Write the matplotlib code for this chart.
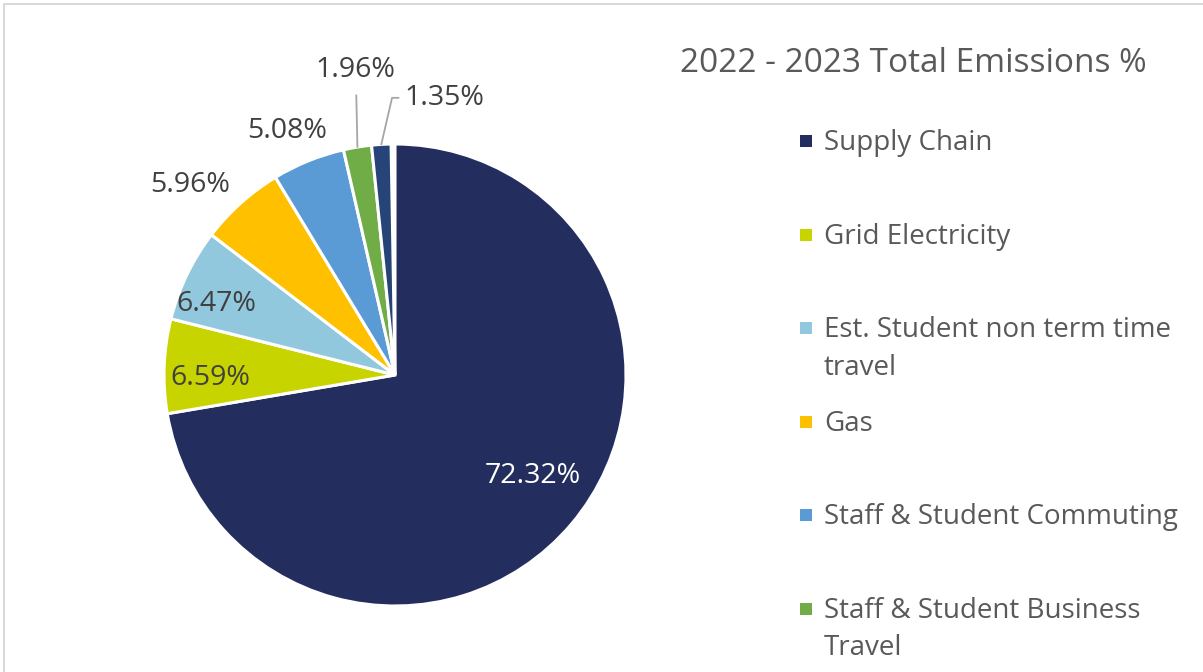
import matplotlib.pyplot as plt
from matplotlib.patches import Rectangle
import numpy as np

labels = ['Supply Chain', 'Grid Electricity', 'Est. Student non term time\ntravel', 'Gas',
          'Staff & Student Commuting', 'Staff & Student Business\nTravel', 'Other']
values = [72.32, 6.59, 6.47, 5.96, 5.08, 1.96, 1.35]
colors = ['#232D5E', '#C8D400', '#92C8DE', '#FFC000', '#5B9BD5', '#70AD47', '#264478']

plt.rcParams['font.family'] = ['Open Sans', 'DejaVu Sans']
textColor = '#404040'

fig = plt.figure(figsize=(12.03, 6.72), dpi=100)

# chart border (only top and left visible in the crop)
fig.patches.append(Rectangle((4 / 1203, -0.2), 1.2, 1.2 - 4 / 672, transform=fig.transFigure,
                             fill=False, edgecolor='#D9D9D9', linewidth=1.5))

# pie axes: centre (395, 375), radius ~231 px
r = 231
cx, cy = 395, 375
ax = fig.add_axes([(cx - r) / 1203, (672 - cy - r) / 672, 2 * r / 1203, 2 * r / 672])
fracs = np.array(values) / 100
wedges, _ = ax.pie(fracs, colors=colors, startangle=90, counterclock=False, normalize=False,
                   wedgeprops=dict(edgecolor='white', linewidth=2.2))
ax.set_xlim(-1, 1)
ax.set_ylim(-1, 1)
ax.set_aspect('auto')
ax.axis('off')

# label radius / angle nudge per slice
dists = [0.73, 0.80, 0.84, 1.22, 1.17]
nudge = [4.8, 2.2, 3.1, 4.7, 1.5]
for i, w in enumerate(wedges[:5]):
    th = np.deg2rad((w.theta1 + w.theta2) / 2 + nudge[i])
    col = 'white' if i == 0 else textColor
    ax.text(dists[i] * np.cos(th), dists[i] * np.sin(th), f'{values[i]:.2f}%',
            ha='center', va='center_baseline', fontsize=20.5, color=col, clip_on=False)

# small slices with leader lines
w = wedges[5]
th = np.deg2rad((w.theta1 + w.theta2) / 2)
ax.annotate(f'{values[5]:.2f}%', xy=(np.cos(th), np.sin(th)), xytext=(-0.17, 1.335),
            ha='center', va='center_baseline', fontsize=20.5, color=textColor, annotation_clip=False,
            arrowprops=dict(arrowstyle='-', color='#A6A6A6', lw=1.3, shrinkA=6, shrinkB=0))
w = wedges[6]
th = np.deg2rad((w.theta1 + w.theta2) / 2)
ax.annotate(f'{values[6]:.2f}%', xy=(np.cos(th), np.sin(th)), xytext=(0.04, 1.215),
            ha='left', va='center_baseline', fontsize=20.5, color=textColor, annotation_clip=False,
            arrowprops=dict(arrowstyle='-', color='#A6A6A6', lw=1.3, shrinkA=2, shrinkB=0,
                            connectionstyle='angle,angleA=0,angleB=77,rad=0'))

fig.text(913 / 1203, 1 - 64 / 672, '2022 - 2023 Total Emissions %', ha='center', va='center',
         fontsize=24, color='#595959')

# legend, evenly spaced slots like the original
step = 93.6
for i, lab in enumerate(labels):
    y = 141 + i * step
    if y > 672:
        break
    fig.patches.append(Rectangle((800 / 1203, 1 - (y + 6) / 672), 12 / 1203, 12 / 672,
                                 transform=fig.transFigure, facecolor=colors[i], edgecolor='none'))
    fig.text(824 / 1203, 1 - (y - 12) / 672, lab, ha='left', va='top', fontsize=20,
             color='#595959', linespacing=1.45)

fig.savefig('out.png', dpi=100)
